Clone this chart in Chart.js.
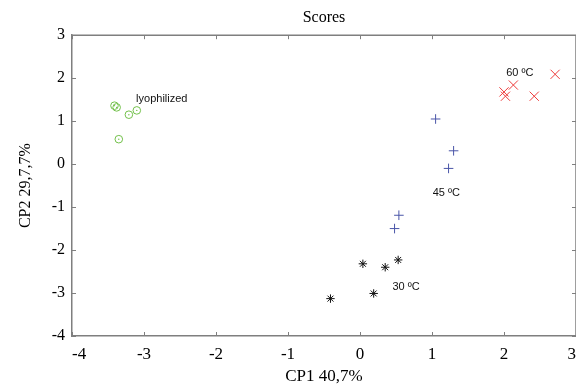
<!DOCTYPE html>
<html>
<head>
<meta charset="utf-8">
<script src="https://cdn.jsdelivr.net/npm/chart.js@4"></script>
<style>
  html, body { margin: 0; padding: 0; background: #fff; }
</style>
</head>
<body>
<canvas id="scoresChart" width="576" height="388"></canvas>
<script>
// ---- data ----
const lyoX = [-3.41, -3.38, -3.21, -3.10, -3.35];
const lyoY = [1.36, 1.32, 1.15, 1.25, 0.58];

const c60X = [2.71, 2.13, 2.00, 2.02, 2.42];
const c60Y = [2.09, 1.84, 1.68, 1.58, 1.58];

const c45X = [1.05, 1.30, 1.23, 0.54, 0.48];
const c45Y = [1.05, 0.31, -0.10, -1.19, -1.50];

const c30X = [0.04, 0.35, 0.53, 0.19, -0.41];
const c30Y = [-2.32, -2.40, -2.23, -3.01, -3.13];

const xTicks = [-4, -3, -2, -1, 0, 1, 2, 3];
const yTicks = [-4, -3, -2, -1, 0, 1, 2, 3];

const noteText = ['lyophilized', '60 ºC', '45 ºC', '30 ºC'];
const noteX = [-3.11, 2.03, 1.01, 0.45];
const noteY = [1.51, 2.12, -0.67, -2.86];

function pts(xs, ys) {
    return xs.map((v, i) => ({ x: v, y: ys[i] }));
}

const serif = 'Liberation Serif, Times New Roman, serif';

// box on top/right + inward tick marks on every side
const framePlugin = {
    id: 'frame',
    afterDraw(chart) {
        const { ctx, chartArea: a, scales: { x, y } } = chart;
        ctx.save();
        ctx.strokeStyle = '#7f7f7f';
        ctx.lineWidth = 1.5;
        ctx.beginPath();
        ctx.moveTo(a.left, a.top);
        ctx.lineTo(a.right, a.top);
        ctx.lineTo(a.right, a.bottom);
        ctx.stroke();
        ctx.lineWidth = 1;
        ctx.beginPath();
        xTicks.forEach(v => {
            const px = Math.round(x.getPixelForValue(v)) + 0.5;
            ctx.moveTo(px, a.bottom); ctx.lineTo(px, a.bottom - 4);
            ctx.moveTo(px, a.top); ctx.lineTo(px, a.top + 4);
        });
        yTicks.forEach(v => {
            const py = Math.round(y.getPixelForValue(v)) + 0.5;
            ctx.moveTo(a.left, py); ctx.lineTo(a.left + 4, py);
            ctx.moveTo(a.right, py); ctx.lineTo(a.right - 4, py);
        });
        ctx.stroke();
        ctx.restore();
    }
};

// group names next to the clusters
const notesPlugin = {
    id: 'notes',
    afterDatasetsDraw(chart) {
        const { ctx, scales: { x, y } } = chart;
        ctx.save();
        ctx.fillStyle = '#111';
        ctx.font = '11px Liberation Sans, Arial, sans-serif';
        ctx.textAlign = 'left';
        ctx.textBaseline = 'middle';
        noteText.forEach((t, i) => {
            ctx.fillText(t, x.getPixelForValue(noteX[i]), y.getPixelForValue(noteY[i]));
        });
        ctx.restore();
    }
};

new Chart(document.getElementById('scoresChart'), {
    type: 'scatter',
    data: {
        datasets: [
            {
                label: 'lyophilized',
                data: pts(lyoX, lyoY),
                pointStyle: 'circle',
                radius: 3.8,
                borderColor: '#72c04a',
                backgroundColor: 'transparent',
                borderWidth: 1
            },
            {
                label: 'lyophilized dot',
                data: pts(lyoX, lyoY),
                pointStyle: 'circle',
                radius: 0.7,
                borderColor: '#72c04a',
                backgroundColor: '#72c04a',
                borderWidth: 0
            },
            {
                label: '60 ºC',
                data: pts(c60X, c60Y),
                pointStyle: 'crossRot',
                radius: 6.5,
                borderColor: '#ee3a3a',
                borderWidth: 1
            },
            {
                label: '45 ºC',
                data: pts(c45X, c45Y),
                pointStyle: 'cross',
                radius: 4.8,
                borderColor: '#4a55a8',
                borderWidth: 1
            },
            {
                label: '30 ºC',
                data: pts(c30X, c30Y),
                pointStyle: 'star',
                radius: 4.2,
                borderColor: '#111',
                borderWidth: 1
            }
        ]
    },
    options: {
        responsive: false,
        animation: false,
        events: [],
        layout: { padding: 0, autoPadding: false },
        plugins: {
            legend: { display: false },
            tooltip: { enabled: false },
            title: {
                display: true,
                text: 'Scores',
                fullSize: false,
                color: '#000',
                font: { family: serif, size: 16, weight: 'normal' },
                padding: { top: 8, bottom: 8 }
            }
        },
        scales: {
            x: {
                type: 'linear',
                min: -4,
                max: 3,
                afterFit: s => { s.height = 52; s.paddingLeft = 0; s.paddingRight = 0; },
                afterBuildTicks: s => { s.ticks = xTicks.map(v => ({ value: v })); },
                grid: { display: false, drawTicks: false },
                border: { display: true, color: '#7f7f7f', width: 1.5 },
                ticks: { color: '#000', padding: 8, maxRotation: 0, align: 'inner', font: { family: serif, size: 17 } },
                title: {
                    display: true,
                    text: 'CP1 40,7%',
                    color: '#000',
                    font: { family: serif, size: 17 },
                    padding: { top: 0, bottom: 1 }
                }
            },
            y: {
                type: 'linear',
                min: -4,
                max: 3,
                afterFit: s => { s.width = 72; },
                afterBuildTicks: s => { s.ticks = yTicks.map(v => ({ value: v })); },
                grid: { display: false, drawTicks: false },
                border: { display: true, color: '#7f7f7f', width: 1.5 },
                ticks: { color: '#000', padding: 7, font: { family: serif, size: 16 } },
                title: {
                    display: true,
                    text: 'CP2 29,7,7%',
                    color: '#000',
                    font: { family: serif, size: 16 },
                    padding: { top: 16, bottom: 0 }
                }
            }
        }
    },
    plugins: [framePlugin, notesPlugin]
});
</script>
</body>
</html>
